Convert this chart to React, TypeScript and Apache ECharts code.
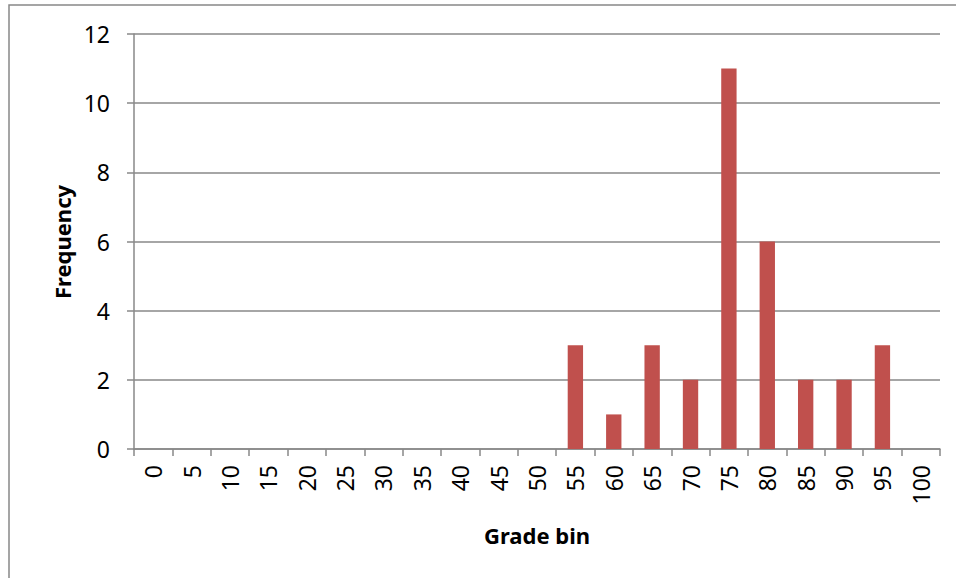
import React, { useEffect, useRef } from "react";
import * as echarts from "echarts";

const categories = ["0","5","10","15","20","25","30","35","40","45","50","55","60","65","70","75","80","85","90","95","100"];
const frequency = [0,0,0,0,0,0,0,0,0,0,0,3,1,3,2,11,6,2,2,3,0];
const yTicks = { min: 0, max: 12, interval: 2 };
const xTitle = "Grade bin";
const yTitle = "Frequency";

export default function App() {
  const ref = useRef<HTMLDivElement>(null);
  useEffect(() => {
    if (!ref.current) return;
    const chart = echarts.init(ref.current, null, { renderer: "svg" });
    const font = "Noto Sans";
    chart.setOption({
      animation: false,
      backgroundColor: "#ffffff",
      grid: { left: 134, top: 34, right: 16, bottom: 129, containLabel: false },
      xAxis: {
        type: "category",
        data: categories,
        axisLine: { show: true, lineStyle: { color: "#888888", width: 1.5 } },
        axisTick: { show: true, length: 7, lineStyle: { color: "#888888", width: 1.5 } },
        axisLabel: { rotate: 90, margin: 16, color: "#000", fontFamily: font, fontSize: 23, interval: 0 },
        splitLine: { show: false },
      },
      yAxis: {
        type: "value",
        min: yTicks.min,
        max: yTicks.max,
        interval: yTicks.interval,
        axisLine: { show: true, lineStyle: { color: "#888888", width: 1.5 } },
        axisTick: { show: true, length: 7, lineStyle: { color: "#888888", width: 1.5 } },
        axisLabel: { margin: 24, color: "#000", fontFamily: font, fontSize: 23 },
        splitLine: { show: true, lineStyle: { color: "#888888", width: 1.5 } },
      },
      series: [
        {
          type: "bar",
          data: frequency,
          barWidth: "40%",
          itemStyle: { color: "#C0504D" },
        },
      ],
      graphic: [
        {
          type: "rect",
          shape: { x: 9, y: 5, width: 1200, height: 1200 },
          style: { fill: "none", stroke: "#888888", lineWidth: 1.5 },
          silent: true,
        },
        {
          type: "text",
          x: 62,
          y: 242,
          rotation: Math.PI / 2,
          style: { text: yTitle, font: `bold 22px "${font}"`, fill: "#000", align: "center", verticalAlign: "middle" },
        },
        {
          type: "text",
          x: 537,
          y: 535,
          style: { text: xTitle, font: `bold 22px "${font}"`, fill: "#000", align: "center", verticalAlign: "middle" },
        },
      ],
    });
    return () => chart.dispose();
  }, []);
  return <div ref={ref} style={{ position: "fixed", left: 0, top: 0, width: 956, height: 578 }} />;
}
